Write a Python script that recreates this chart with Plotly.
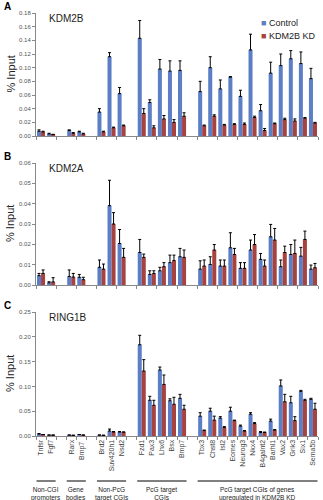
import plotly.graph_objects as go
from plotly.subplots import make_subplots

# ---- data ----
group_names = ["Non-CGI<br>promoters", "Gene<br>bodies", "Non-PcG<br>target CGIs",
               "PcG target<br>CGIs", "PcG target CGIs of genes<br>upregulated in KDM2B KD"]
group_genes = [
    ["Tnfsr", "Fgf7"],
    ["Rarx", "Bmp7 "],
    ["Brd2", "Suv420h1", "Nsd2"],
    ["Fzd1", "Pax3", "Lhx6", "Bsx", "Bmp7"],
    ["Tbx3", "Chst8", "Isl2", "Eomes", "Neurog3", "Nkx4", "B4galnt2", "Barhl1",
     "Vax2", "Grik3", "Six1", "Sema5b"],
]

kdm2b_ctrl = [0.007, 0.003, 0.008, 0.006, 0.035, 0.116, 0.062, 0.143, 0.049, 0.098, 0.095, 0.096,
              0.065, 0.100, 0.069, 0.086, 0.058, 0.126, 0.037, 0.092, 0.103, 0.113, 0.106, 0.084]
kdm2b_ctrl_err = [0.002, 0.001, 0.001, 0.001, 0.005, 0.006, 0.009, 0.026, 0.004, 0.014, 0.015, 0.014,
                  0.015, 0.016, 0.013, 0.001, 0.009, 0.023, 0.009, 0.016, 0.017, 0.012, 0.017, 0.015]
kdm2b_kd = [0.006, 0.002, 0.004, 0.003, 0.006, 0.012, 0.015, 0.033, 0.012, 0.025, 0.020, 0.029,
            0.015, 0.029, 0.016, 0.017, 0.017, 0.027, 0.008, 0.018, 0.024, 0.022, 0.026, 0.019]
kdm2b_kd_err = [0.001, 0.0005, 0.001, 0.001, 0.001, 0.001, 0.001, 0.007, 0.003, 0.005, 0.004, 0.005,
                0.001, 0.002, 0.001, 0.001, 0.002, 0.002, 0.003, 0.001, 0.002, 0.003, 0.001, 0.001]

kdm2a_ctrl = [0.0046, 0.0011, 0.0042, 0.0038, 0.0087, 0.039, 0.0204, 0.016, 0.0052, 0.007, 0.011, 0.0139,
              0.0078, 0.0101, 0.0093, 0.0183, 0.0082, 0.0172, 0.0126, 0.0237, 0.009, 0.015, 0.0142, 0.0078]
kdm2a_ctrl_err = [0.0011, 0.0005, 0.0032, 0.0014, 0.0036, 0.0125, 0.0069, 0.0064, 0.0018, 0.0017, 0.0037, 0.0041,
                  0.0041, 0.0038, 0.003, 0.0074, 0.0028, 0.0049, 0.0029, 0.0061, 0.0033, 0.0049, 0.0043, 0.002]
kdm2a_kd = [0.0057, 0.0015, 0.0039, 0.0026, 0.0078, 0.030, 0.0136, 0.0136, 0.0057, 0.009, 0.012, 0.0136,
            0.0093, 0.0172, 0.0093, 0.015, 0.0082, 0.0199, 0.0093, 0.0221, 0.016, 0.0155, 0.0224, 0.0085]
kdm2a_kd_err = [0.0017, 0.0021, 0.0018, 0.0012, 0.0025, 0.0056, 0.0044, 0.0016, 0.0013, 0.002, 0.0027, 0.0036,
                0.003, 0.0027, 0.003, 0.003, 0.0028, 0.0049, 0.003, 0.0057, 0.0031, 0.0066, 0.0041, 0.0021]

ring1b_ctrl = [0.004, 0.002, 0.002, 0.003, 0.002, 0.010, 0.008, 0.184, 0.072, 0.133, 0.071, 0.076,
               0.040, 0.050, 0.036, 0.050, 0.020, 0.044, 0.007, 0.030, 0.101, 0.067, 0.090, 0.074]
ring1b_ctrl_err = [0.001, 0, 0, 0, 0, 0.004, 0.001, 0.019, 0.008, 0.006, 0.004, 0.008,
                   0.007, 0.006, 0.003, 0.008, 0.002, 0.003, 0.002, 0.004, 0.012, 0.013, 0.002, 0.002]
ring1b_kd = [0.003, 0.002, 0.0015, 0.002, 0.0015, 0.008, 0.008, 0.131, 0.062, 0.104, 0.064, 0.054,
             0.011, 0.032, 0.017, 0.031, 0.010, 0.025, 0.007, 0.012, 0.069, 0.031, 0.072, 0.054]
ring1b_kd_err = [0, 0, 0, 0, 0, 0.001, 0, 0.023, 0.010, 0.019, 0.014, 0.008,
                 0.001, 0.008, 0.002, 0.001, 0.001, 0.002, 0.001, 0.001, 0.015, 0.008, 0.002, 0.012]

panel_titles = ["KDM2B", "KDM2A", "RING1B"]
panel_letters = ["A", "B", "C"]
y_ranges = [(0, 0.18, 0.02), (0, 0.06, 0.01), (0, 0.25, 0.05)]
tick_formats = [".2f", ".2f", ".2f"]
series_names = ["Control", "KDM2B KD"]

BLUE = "#5B7EC6"
RED = "#A6433F"
FONT = "Arial, Liberation Sans, sans-serif"
W, H = 323, 500

# ---- build categories with spacer slots between groups ----
categories = []
gene_index = []
group_spans = []
for gi, genes in enumerate(group_genes):
    if gi > 0:
        categories.append(" " * gi)
        gene_index.append(None)
    start = len(categories)
    for g in genes:
        categories.append(g)
        gene_index.append(1)
    group_spans.append((start, len(categories) - 1))


def expand(vals):
    out, k = [], 0
    for gidx in gene_index:
        if gidx is None:
            out.append(None)
        else:
            out.append(vals[k])
            k += 1
    return out


panels = [
    (kdm2b_ctrl, kdm2b_ctrl_err, kdm2b_kd, kdm2b_kd_err),
    (kdm2a_ctrl, kdm2a_ctrl_err, kdm2a_kd, kdm2a_kd_err),
    (ring1b_ctrl, ring1b_ctrl_err, ring1b_kd, ring1b_kd_err),
]
colors = [BLUE, RED]

fig = make_subplots(rows=3, cols=1)

panel_px = [(13, 136), (163, 285), (312, 436)]
x_left, x_right = 36, 318

for i, (c, ce, k, ke) in enumerate(panels):
    r = i + 1
    for vals, errs, name, col in ((c, ce, series_names[0], BLUE), (k, ke, series_names[1], RED)):
        fig.add_trace(go.Bar(
            x=categories, y=expand(vals), name=name, marker_color=col,
            marker_line_width=0,
            error_y=dict(type="data", array=expand(errs), symmetric=False,
                         arrayminus=[0] * len(categories), color="black",
                         thickness=1, width=1.5),
            showlegend=False, legendgroup=name,
        ), row=r, col=1)
    top, bot = panel_px[i]
    y0, y1, dt = y_ranges[i]
    yk = "yaxis" if i == 0 else f"yaxis{r}"
    xk = "xaxis" if i == 0 else f"xaxis{r}"
    fig.layout[yk].update(
        domain=[1 - bot / H, 1 - top / H], range=[y0, y1], tick0=0, dtick=dt,
        showgrid=False, zeroline=False, showline=True, linecolor="#888", linewidth=1,
        ticks="outside", ticklen=3, tickcolor="#888", automargin=False,
        tickfont=dict(size=6, color="#555", family=FONT),
        tickformat=tick_formats[i],
    )
    fig.layout[xk].update(
        domain=[x_left / W, x_right / W], type="category",
        categoryorder="array", categoryarray=categories,
        range=[-0.5, len(categories) - 0.5],
        showgrid=False, showline=True, linecolor="#888", linewidth=1,
        ticks="outside", ticklen=3, tickcolor="#888", tickson="boundaries",
        showticklabels=(i == 2), tickangle=-90, automargin=False,
        tickfont=dict(size=7, color="#444", family=FONT),
    )
    fig.add_annotation(text=f"<b>{panel_letters[i]}</b>", xref="paper", yref="paper",
                       x=2 / W, y=1 - (top - 7) / H, xanchor="left", yanchor="middle",
                       showarrow=False, font=dict(size=10, family=FONT, color="black"))
    fig.add_annotation(text=panel_titles[i], xref="paper", yref="paper",
                       x=47 / W, y=1 - (top + 5) / H, xanchor="left", yanchor="middle",
                       showarrow=False, font=dict(size=10, family=FONT, color="#222"))
    fig.add_annotation(text="% Input", xref="paper", yref="paper", textangle=-90,
                       x=10 / W, y=1 - ((top + bot) / 2) / H, xanchor="center", yanchor="middle",
                       showarrow=False, font=dict(size=11, family=FONT, color="#222"))

# legend (small square keys) in panel A
for si, name in enumerate(series_names):
    fig.add_annotation(
        text=f"<span style='color:{colors[si]}'>■</span> {name}",
        xref="paper", yref="paper", x=259 / W, y=1 - (23 + 13 * si) / H,
        xanchor="left", yanchor="middle", showarrow=False,
        font=dict(size=9, family=FONT, color="#222"))

for gi, (s, e) in enumerate(group_spans):
    fig.add_shape(type="line", xref="x3", yref="paper", x0=s - 0.45, x1=e + 0.45,
                  y0=1 - 481 / H, y1=1 - 481 / H, line=dict(color="black", width=1))
    fig.add_annotation(text=group_names[gi], xref="x3", yref="paper", x=(s + e) / 2,
                       y=1 - 484 / H, xanchor="center", yanchor="top", showarrow=False,
                       font=dict(size=6.5, family=FONT, color="#222"))

fig.update_layout(
    width=W, height=H, margin=dict(l=0, r=0, t=0, b=0),
    paper_bgcolor="white", plot_bgcolor="white",
    barmode="group", bargap=0.2, bargroupgap=0,
    showlegend=False,
    font=dict(family=FONT),
)

fig.write_html("out.html")
